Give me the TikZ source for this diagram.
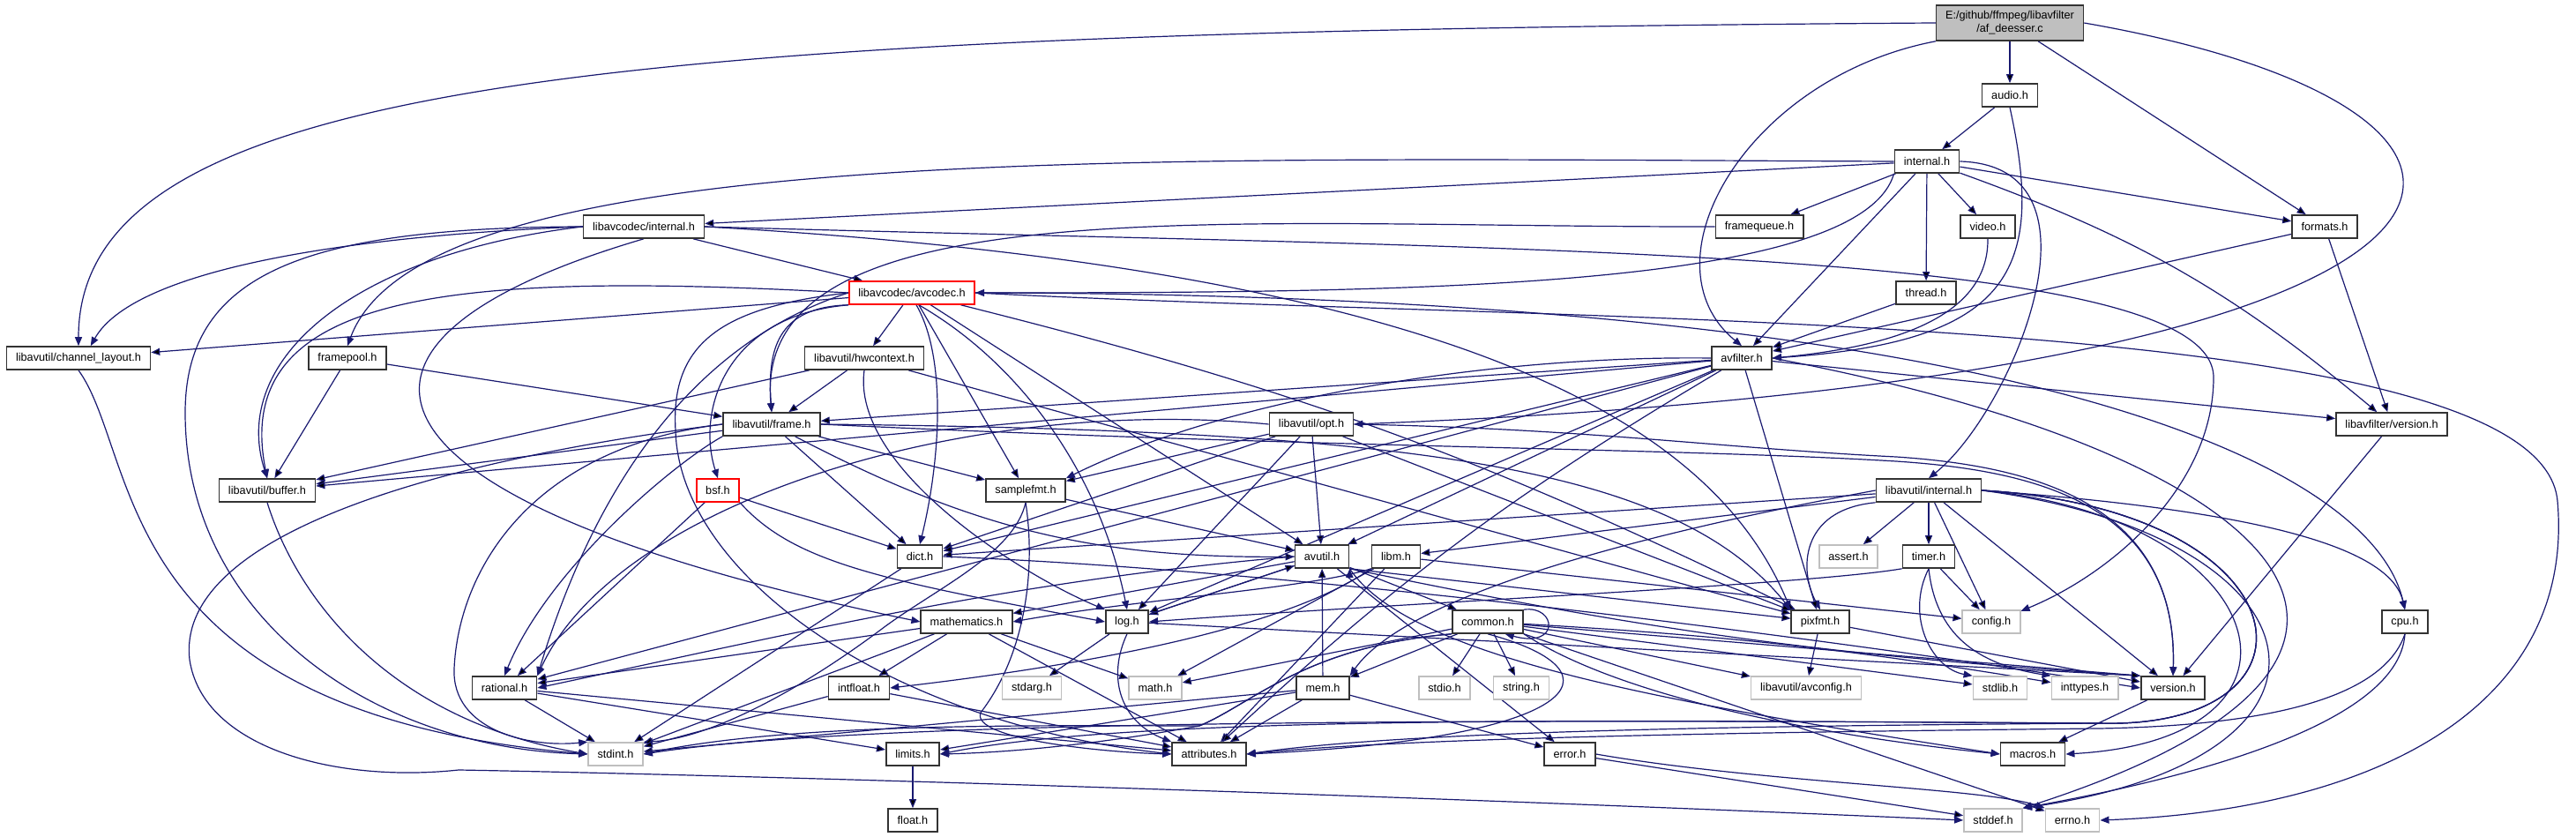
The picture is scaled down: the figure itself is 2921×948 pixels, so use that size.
\documentclass[tikz,border=0pt]{standalone}
\usepackage{fontspec}
\setmainfont{Liberation Sans}
\usetikzlibrary{arrows.meta}
\pgfdeclarelayer{background}
\pgfsetlayers{background,main}
\definecolor{incblue}{HTML}{191970}
\begin{document}
\begin{tikzpicture}[x=1pt, y=1pt,
		every node/.style={draw=black!80, line width=1.6pt, fill=white, minimum height=26pt, inner xsep=10.5pt, inner ysep=2pt, font=\fontsize{12.7}{15}\selectfont},
		sys/.style={draw=black!25},
		trunc/.style={draw=red},
		root/.style={fill=black!25, align=center, minimum height=40pt},
		inc/.style={draw=incblue, line width=1.2pt, -{Triangle[length=10pt, width=8pt]}},
		]
		\useasboundingbox (0,0) rectangle (2921,948);
		\node[root] (deesser) at (2279,922) {E:/github/ffmpeg/libavfilter\\/af\_deesser.c};
		\node (audio) at (2279,840) {audio.h};
		\node (internalh) at (2185,765) {internal.h};
		\node (framequeue) at (1995,691) {framequeue.h};
		\node (video) at (2254,691) {video.h};
		\node (formats) at (2636,691) {formats.h};
		\node (thread) at (2184,616) {thread.h};
		\node (avfilter) at (1975,542) {avfilter.h};
		\node (lavfversion) at (2712,467) {libavfilter/version.h};
		\node (lavcinternal) at (730,691) {libavcodec/internal.h};
		\node (chlayout) at (89,542) {libavutil/channel\_layout.h};
		\node (framepool) at (394,542) {framepool.h};
		\node[trunc] (avcodec) at (1034,616) {libavcodec/avcodec.h};
		\node (hwcontext) at (980,542) {libavutil/hwcontext.h};
		\node (opt) at (1487,467) {libavutil/opt.h};
		\node (frame) at (875,467) {libavutil/frame.h};
		\node (buffer) at (303,392) {libavutil/buffer.h};
		\node[trunc] (bsf) at (814,392) {bsf.h};
		\node (samplefmt) at (1163,392) {samplefmt.h};
		\node (lavuinternal) at (2187,392) {libavutil/internal.h};
		\node (dict) at (1043,317) {dict.h};
		\node (avutil) at (1499,317) {avutil.h};
		\node (libm) at (1583,317) {libm.h};
		\node[sys] (assert) at (2096,317) {assert.h};
		\node (timer) at (2187,317) {timer.h};
		\node (mathematics) at (1096,243) {mathematics.h};
		\node (log) at (1278,243) {log.h};
		\node (common) at (1687,243) {common.h};
		\node (pixfmt) at (2064,243) {pixfmt.h};
		\node[sys] (config) at (2258,243) {config.h};
		\node (cpu) at (2727,243) {cpu.h};
		\node (rational) at (572,168) {rational.h};
		\node (intfloat) at (974,168) {intfloat.h};
		\node[sys] (stdarg) at (1170,168) {stdarg.h};
		\node[sys] (math) at (1310,168) {math.h};
		\node (mem) at (1500,168) {mem.h};
		\node[sys] (stdio) at (1638,168) {stdio.h};
		\node[sys] (stringh) at (1725,168) {string.h};
		\node[sys] (avconfig) at (2048,168) {libavutil/avconfig.h};
		\node[sys] (stdlib) at (2268,168) {stdlib.h};
		\node[sys] (inttypes) at (2364,168) {inttypes.h};
		\node (version) at (2464,168) {version.h};
		\node[sys] (stdint) at (698,93) {stdint.h};
		\node (limits) at (1035,93) {limits.h};
		\node (attributes) at (1371,93) {attributes.h};
		\node (error) at (1780,93) {error.h};
		\node (macros) at (2305,93) {macros.h};
		\node (float) at (1035,18) {float.h};
		\node[sys] (stddef) at (2260,18) {stddef.h};
		\node[sys] (errno) at (2350,18) {errno.h};
		\begin{pgfonlayer}{background}
		\fill[white] (0,0) rectangle (2921,948);
		\path[inc] (deesser) edge (audio) edge (formats);
		\draw[inc] (deesser.west) .. controls (700,912) and (89,860) .. (chlayout.north);
		\draw[inc] (deesser.south west) .. controls (1980,860) and (1860,650) .. (avfilter.north);
		\draw[inc] (deesser.east) .. controls (2950,820) and (2920,520) .. (opt.east);
		\path[inc] (audio) edge (internalh);
		\draw[inc] (audio.south) .. controls (2320,640) and (2280,560) .. (avfilter.east);
		\path[inc] (internalh) edge (lavcinternal) edge (framequeue) edge (video) edge (thread) edge (avfilter) edge (formats) edge[bend left=10] (lavfversion);
		\draw[inc] (internalh.west) .. controls (1300,768) and (480,790) .. (framepool.north);
		\draw[inc] (internalh.south west) .. controls (2110,620) and (1600,616) .. (avcodec.east);
		\draw[inc] (internalh.east) .. controls (2400,760) and (2280,480) .. (lavuinternal.north);
		\draw[inc] (framequeue.west) .. controls (1400,690) and (850,740) .. (frame.north);
		\draw[inc] (video.south) .. controls (2255,590) and (2150,555) .. (avfilter.east);
		\path[inc] (thread) edge (avfilter);
		\path[inc] (formats) edge (avfilter) edge (lavfversion);
		\path[inc] (lavcinternal) edge (avcodec);
		\draw[inc] (lavcinternal.east) .. controls (1700,640) and (1950,450) .. (pixfmt.north west);
		\draw[inc] (lavcinternal.west) .. controls (380,680) and (150,640) .. (chlayout.45);
		\draw[inc] (lavcinternal.west) .. controls (400,660) and (260,540) .. (buffer.north);
		\draw[inc] (lavcinternal.south) .. controls (330,560) and (380,380) .. (mathematics.west);
		\draw[inc] (lavcinternal.west) .. controls (350,690) and (210,640) .. (210,480) .. controls (210,250) and (420,100) .. (stdint.west);
		\draw[inc] (lavcinternal.east) .. controls (1700,665) and (2510,670) .. (2510,520) .. controls (2510,400) and (2400,300) .. (config.20);
		\path[inc] (framepool) edge (buffer) edge (frame);
		\path[inc] (avcodec) edge (chlayout) edge (hwcontext) edge (samplefmt) edge (avutil) edge[bend left=6] (pixfmt);
		\draw[inc] (avcodec.-70) .. controls (1075,540) and (1065,420) .. (dict.north);
		\draw[inc] (avcodec.-60) .. controls (1150,540) and (1245,420) .. (log.north);
		\draw[inc] (avcodec.south west) .. controls (880,600) and (870,550) .. (frame.north);
		\draw[inc] (avcodec.south west) .. controls (820,590) and (790,480) .. (bsf.north);
		\draw[inc] (avcodec.west) .. controls (520,640) and (260,620) .. (buffer.north);
		\draw[inc] (avcodec.west) .. controls (850,580) and (700,480) .. (rational.north east);
		\draw[inc] (avcodec.west) .. controls (820,600) and (760,560) .. (766,460) .. controls (770,300) and (1000,130) .. (attributes.west);
		\draw[inc] (avcodec.east) .. controls (2300,615) and (2690,420) .. (cpu.north);
		\draw[inc] (avcodec.east) .. controls (1800,580) and (2880,600) .. (2900,380) .. controls (2920,150) and (2700,30) .. (errno.east);
		\path[inc] (hwcontext) edge (buffer) edge (frame) edge (pixfmt);
		\draw[inc] (hwcontext.south) .. controls (965,420) and (1150,300) .. (log.north west);
		\path[inc] (opt) edge (avutil) edge (dict) edge (log) edge (pixfmt) edge (samplefmt);
		\draw[inc] (opt.west) .. controls (1100,500) and (700,380) .. (rational.north east);
		\draw[inc] (opt.east) .. controls (1800,462) and (1950,440) .. (2150,430) .. controls (2300,420) and (2470,380) .. (version.north);
		\path[inc] (frame) edge (dict) edge (samplefmt) edge (buffer) edge[bend right=14] (avutil);
		\draw[inc] (frame.south west) .. controls (760,420) and (620,300) .. (rational.north);
		\draw[inc] (frame.west) .. controls (600,440) and (520,300) .. (515,190) .. controls (512,120) and (600,100) .. (stdint.north west);
		\draw[inc] (frame.east) .. controls (1600,460) and (1900,420) .. (pixfmt.north west);
		\draw[inc] (frame.east) .. controls (1500,440) and (1900,440) .. (2150,425) .. controls (2300,415) and (2470,380) .. (version.north);
		\draw[inc] (frame.west) .. controls (450,420) and (200,330) .. (215,200) .. controls (230,100) and (380,60) .. (520,75) .. controls (800,70) and (1500,50) .. (stddef.west);
		\path[inc] (bsf) edge (dict) edge (rational);
		\draw[inc] (bsf.south east) .. controls (900,310) and (1000,290) .. (log.west);
		\draw[inc] (buffer.south) .. controls (340,260) and (450,130) .. (stdint.west);
		\draw[inc] (chlayout.south) .. controls (160,430) and (120,140) .. (stdint.west);
		\path[inc] (samplefmt) edge (avutil);
		\draw[inc] (samplefmt.south) .. controls (1175,300) and (1162,205) .. (1112,140) .. controls (1100,110) and (1250,95) .. (attributes.west);
		\draw[inc] (samplefmt.south) .. controls (1150,320) and (1060,280) .. (1000,235) .. controls (900,160) and (800,110) .. (stdint.north east);
		\path[inc] (dict) edge (stdint);
		\draw[inc] (dict.east) .. controls (1500,300) and (2100,220) .. (version.west);
		\path[inc] (avutil) edge (common) edge (error) edge (mathematics) edge (log);
		\path[inc] (avutil.south east) edge (pixfmt) edge[bend right=4] (version.north west);
		\draw[inc] (avutil.west) .. controls (1150,290) and (900,230) .. (rational.east);
		\draw[inc] (avutil.south east) .. controls (1600,200) and (1900,150) .. (macros.west);
		\path[inc] (libm) edge (math) edge (attributes) edge (config);
		\draw[inc] (libm.south west) .. controls (1450,230) and (1200,190) .. (intfloat.east);
		\draw[inc] (libm.south west) .. controls (1480,280) and (1300,270) .. (mathematics.east);
		\path[inc] (mathematics) edge (stdint) edge (math) edge (attributes) edge (rational) edge (intfloat);
		\path[inc] (log) edge (stdarg) edge (avutil) edge (version.north west);
		\draw[inc] (log.south) .. controls (1255,180) and (1270,130) .. (attributes.north west);
		\path[inc] (common) edge[bend left=3] (inttypes) edge (math) edge (stdio) edge (stringh) edge (stdlib) edge (version.north west) edge (avconfig) edge (mem) edge (errno);
		\draw[inc] (common.north east) .. controls (1765,262) and (1770,212) .. (common.-35);
		\draw[inc] (common.south west) .. controls (1480,215) and (1420,150) .. (1360,125) .. controls (1250,105) and (1150,95) .. (limits.east);
		\draw[inc] (common.south west) .. controls (1480,215) and (1420,150) .. (1360,125) .. controls (1200,125) and (900,130) .. (stdint.east);
		\draw[inc] (common.south) .. controls (1850,185) and (1790,110) .. (attributes.east);
		\draw[inc] (common.south east) .. controls (1850,150) and (2100,110) .. (macros.west);
		\path[inc] (mem) edge (limits) edge (stdint) edge (attributes) edge (error) edge (avutil);
		\path[inc] (error) edge (stddef);
		\draw[inc] (error.east) .. controls (2000,60) and (2250,55) .. (errno.north west);
		\path[inc] (rational) edge (stdint) edge (limits) edge (attributes);
		\path[inc] (intfloat) edge (stdint) edge (attributes);
		\path[inc] (limits) edge (float);
		\path[inc] (pixfmt) edge (avconfig) edge (version);
		\path[inc] (lavuinternal) edge (assert) edge (timer) edge (config) edge (dict) edge (libm) edge (version);
		\draw[inc] (lavuinternal.south west) .. controls (2040,370) and (2040,300) .. (pixfmt.north);
		\draw[inc] (lavuinternal.west) .. controls (1900,350) and (1600,280) .. (mem.north east);
		\draw[inc] (lavuinternal.east) .. controls (2550,370) and (2710,330) .. (cpu.north);
		\draw[inc] (lavuinternal.east) .. controls (2580,360) and (2650,110) .. (macros.east);
		\draw[inc] (lavuinternal.east) .. controls (2640,340) and (2700,90) .. (stddef.north east);
		\draw[inc] (lavuinternal.east) .. controls (2620,370) and (2650,120) .. (2380,128) .. controls (2000,125) and (1600,120) .. (attributes.east);
		\draw[inc] (lavuinternal.east) .. controls (2620,370) and (2650,120) .. (2380,128) .. controls (1900,130) and (1300,140) .. (limits.east);
		\draw[inc] (lavuinternal.east) .. controls (2620,370) and (2650,120) .. (2380,128) .. controls (1800,132) and (1000,135) .. (stdint.east);
		\path[inc] (timer) edge (config);
		\draw[inc] (timer.south) .. controls (2160,250) and (2190,190) .. (stdlib.north west);
		\draw[inc] (timer.south) .. controls (2195,230) and (2240,195) .. (inttypes.north west);
		\draw[inc] (timer.south west) .. controls (2050,285) and (1600,265) .. (log.east);
		\draw[inc] (cpu.south) .. controls (2700,150) and (2550,125) .. (2380,122) .. controls (2000,118) and (1600,112) .. (attributes.east);
		\draw[inc] (cpu.south) .. controls (2720,120) and (2450,60) .. (stddef.north east);
		\path[inc] (version) edge (macros);
		\path[inc] (lavfversion) edge (version);
		\path[inc] (avfilter) edge (avutil) edge (log) edge (pixfmt) edge[bend right=6] (attributes) edge (lavfversion) edge (frame) edge (buffer) edge (dict) edge (rational);
		\draw[inc] (avfilter.west) .. controls (1700,545) and (1400,500) .. (samplefmt.north east);
		\draw[inc] (avfilter.east) .. controls (2600,430) and (2820,200) .. (stddef.north east);
		\end{pgfonlayer}
	\end{tikzpicture}
\end{document}
